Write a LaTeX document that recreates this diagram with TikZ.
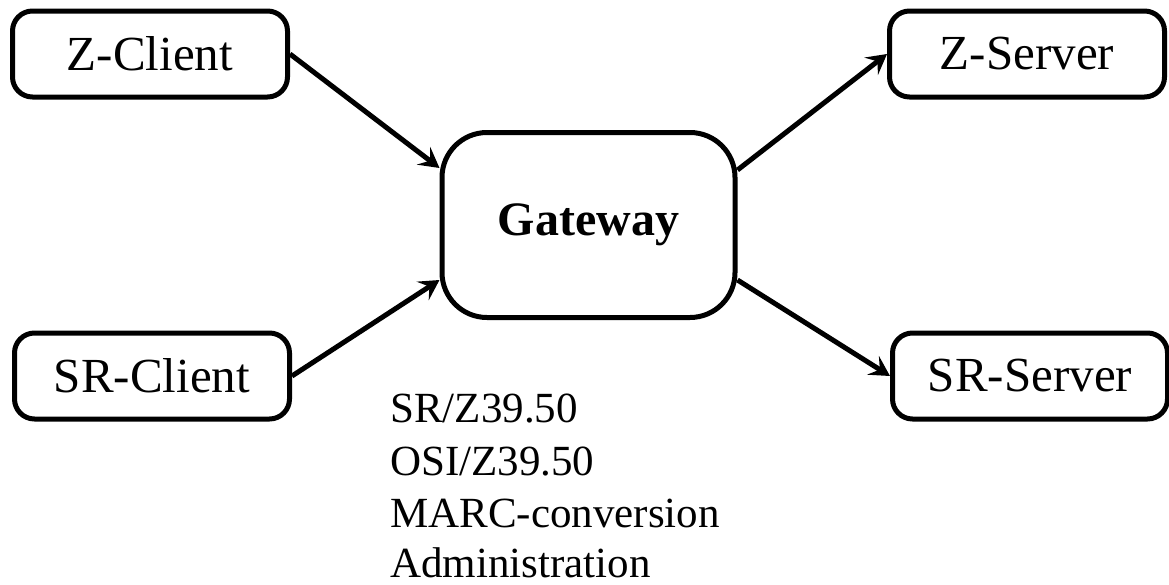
\documentclass[tikz,border=0pt]{standalone}
\usepackage{fontspec}
\setmainfont{Liberation Serif}
\usetikzlibrary{arrows.meta}
\begin{document}
\begin{tikzpicture}[x=1pt,y=-1pt,
  box/.style={draw,line width=5pt,rounded corners=20pt,inner sep=0pt,
    minimum width=275pt,minimum height=86pt,font=\fontsize{49}{58}\selectfont},
  gwbox/.style={draw,line width=5pt,rounded corners=45pt,inner sep=0pt,
    minimum width=293pt,minimum height=185pt,font=\fontsize{48}{58}\selectfont\bfseries},
  conn/.style={line width=5pt,-{Stealth[length=20pt,width=22pt,inset=8pt]}},
  item/.style={anchor=base west,inner sep=0pt,font=\fontsize{43}{52}\selectfont}]
\path[use as bounding box] (0,0) rectangle (1169,584);
\node[box] (zc) at (150,54) {Z-Client};
\node[box] (sc) at (152,376) {SR-Client};
\node[gwbox] (gw) at (588.5,225) {\raisebox{-7pt}{Gateway}};
\node[box] (zs) at (1027,54) {Z-Server};
\node[box] (ss) at (1030,376) {SR-Server};
\draw[conn] (zc.east) -- ([yshift=57pt]gw.west);
\draw[conn] (sc.east) -- ([yshift=-55pt]gw.west);
\draw[conn] ([yshift=55pt]gw.east) -- (zs.west);
\draw[conn] ([yshift=-55pt]gw.east) -- (ss.west);
\node[item] (l1) at (390,422) {SR/Z39.50};
\node[item] (l2) at (390,475) {OSI/Z39.50};
\node[item] (l3) at (390,527) {MARC-conversion};
\node[item] (l4) at (390,577) {Administration};
\end{tikzpicture}
\end{document}
